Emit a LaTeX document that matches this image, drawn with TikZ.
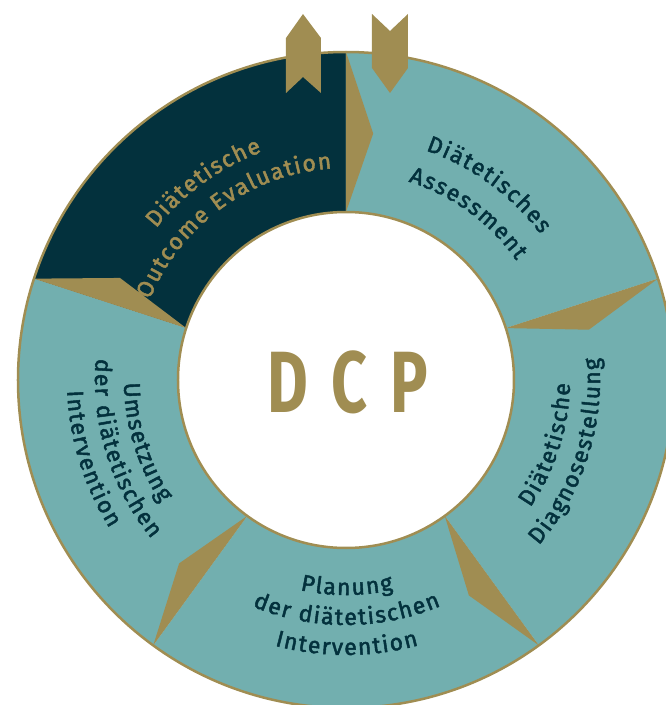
\documentclass[tikz,border=0pt]{standalone}
\usepackage{fontspec}
\setmainfont{Fira Sans}
\newfontfamily\ringfont{Fira Sans}[FakeBold=2]
\usetikzlibrary{decorations.text}
\definecolor{ringteal}{HTML}{72AFAF}
\definecolor{ringnavy}{HTML}{03313D}
\definecolor{ringgold}{HTML}{A08D52}
\tikzset{
  lbl/.style={decorate, decoration={text along path, text align=center, text={|\fontsize{23}{23}\ringfont\color{ringnavy}\kern1.5pt|#1}}},
  lblgold/.style={decorate, decoration={text along path, text align=center, text={|\fontsize{23}{23}\ringfont\color{ringgold}\kern1.5pt|#1}}}
}
\begin{document}
\begin{tikzpicture}[x=1pt,y=1pt]
\useasboundingbox (-346,-325) rectangle (319,380);
% ring segments
\fill[ringnavy] (90:328pt) arc[start angle=90, end angle=162, radius=328pt] -- (162:168pt) arc[start angle=162, end angle=90, radius=168pt] -- cycle;
\foreach \a in {18,-54,-126,162}
  \fill[ringteal] (\a:328pt) arc[start angle=\a, end angle=\a+72, radius=328pt] -- ({\a+72}:168pt) arc[start angle=\a+72, end angle=\a, radius=168pt] -- cycle;
% arrow wedges
\foreach \b in {90,18,-54,-126,162}
  \fill[ringgold] (\b:328pt) -- ({\b-6.3}:248pt) -- (\b:168pt) -- cycle;
\draw[ringgold, line width=2.5pt] (0,0) circle[radius=328pt] (0,0) circle[radius=168pt];
% bookmarks on top
\fill[ringgold] (-60,342) -- (-43,366) -- (-25,342) -- (-25,287) -- (-43,303) -- (-60,287) -- cycle;
\fill[ringgold] (26,366) -- (44,349) -- (62,366) -- (62,312) -- (44,287) -- (26,312) -- cycle;
\node[ringgold, font=\fontsize{87}{87}\selectfont\bfseries, xscale=0.72, inner sep=0pt] (dcp) at (2,-2) {D\kern32pt C\kern32pt P};
% labels
\path[lblgold={Diätetische}] (162:243pt) arc[start angle=162, end angle=90, radius=243pt];
\path[lblgold={Outcome Evaluation}] (162:212pt) arc[start angle=162, end angle=90, radius=212pt];
\path[lbl={Diätetisches}] (90:243pt) arc[start angle=90, end angle=18, radius=243pt];
\path[lbl={Assessment}] (90:208pt) arc[start angle=90, end angle=18, radius=208pt];
\path[lbl={Diätetische}] (-54:224pt) arc[start angle=-54, end angle=18, radius=224pt];
\path[lbl={Diagnosestellung}] (-54:254pt) arc[start angle=-54, end angle=18, radius=254pt];
\path[lbl={Planung}] (-126:215pt) arc[start angle=-126, end angle=-54, radius=215pt];
\path[lbl={der diätetischen}] (-126:245pt) arc[start angle=-126, end angle=-54, radius=245pt];
\path[lbl={Intervention}] (-126:275pt) arc[start angle=-126, end angle=-54, radius=275pt];
\path[lbl={Umsetzung}] (161:222pt) arc[start angle=161, end angle=233, radius=222pt];
\path[lbl={der diätetischen}] (161:251pt) arc[start angle=161, end angle=233, radius=251pt];
\path[lbl={Intervention}] (161:279pt) arc[start angle=161, end angle=233, radius=279pt];
\end{tikzpicture}
\end{document}
